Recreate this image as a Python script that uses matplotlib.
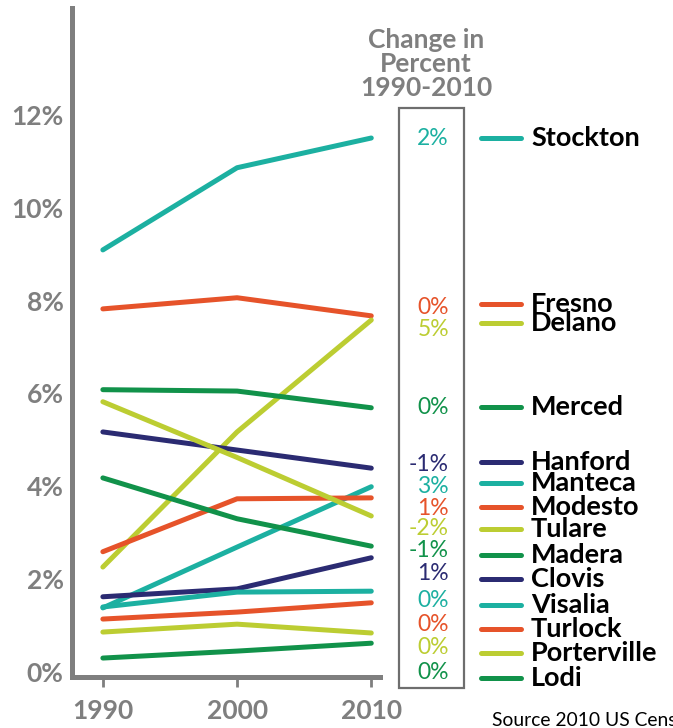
import matplotlib
matplotlib.use("Agg")
import matplotlib.pyplot as plt
from matplotlib.patches import Rectangle

# ---- data (share of population, %) ----
years = [1990, 2000, 2010]
cities = ["Stockton", "Fresno", "Delano", "Merced", "Hanford", "Manteca", "Modesto",
          "Tulare", "Madera", "Clovis", "Visalia", "Turlock", "Porterville", "Lodi"]
stockton = [9.09, 10.86, 11.50]
fresno = [7.82, 8.06, 7.67]
delano = [2.26, 5.17, 7.58]
merced = [6.08, 6.05, 5.69]
hanford = [5.17, 4.78, 4.39]
manteca = [1.38, 2.69, 3.99]
modesto = [2.59, 3.73, 3.75]
tulare = [5.82, 4.62, 3.36]
madera = [4.18, 3.30, 2.71]
clovis = [1.62, 1.79, 2.46]
visalia = [1.40, 1.72, 1.74]
turlock = [1.14, 1.29, 1.49]
porterville = [0.86, 1.03, 0.84]
lodi = [0.30, 0.45, 0.62]
series = [stockton, fresno, delano, merced, hanford, manteca, modesto,
          tulare, madera, clovis, visalia, turlock, porterville, lodi]
change_pct = [2, 0, 5, 0, -1, 3, 1, -2, -1, 1, 0, 0, 0, 0]
yticks = [0, 2, 4, 6, 8, 10, 12]

# ---- style ----
TEAL = "#1cb0a1"
ORANGE = "#e6532a"
LIME = "#bccd32"
GREEN = "#11924a"
NAVY = "#2b2b72"
GRAY = "#7f7f7f"
colors = [TEAL, ORANGE, LIME, GREEN, NAVY, TEAL, ORANGE,
          LIME, GREEN, NAVY, TEAL, ORANGE, LIME, GREEN]

# label slots on the right (in % units, hand-spaced to avoid overlaps)
legend_slot = [11.50, 7.93, 7.52, 5.71, 4.52, 4.07, 3.55, 3.08, 2.52, 2.00, 1.44, 0.93, 0.41, -0.13]
pct_slot = [11.48, 7.84, 7.37, 5.69, 4.46, 3.99, 3.53, 3.08, 2.61, 2.13, 1.55, 1.03, 0.52, -0.02]

W, H = 673, 728
fig = plt.figure(figsize=(W / 100, H / 100), dpi=100)
ax = fig.add_axes([72 / W, (H - 677) / H, 308 / W, (677 - 8) / H])

for vals, col in zip(series, colors):
    ax.plot(years, vals, color=col, lw=3.6, solid_capstyle="round", solid_joinstyle="round")

ax.set_xlim(1987.7, 2010.65)
ax.set_ylim(-0.108, 14.3)

for side in ["top", "right"]:
    ax.spines[side].set_visible(False)
for side in ["left", "bottom"]:
    ax.spines[side].set_color(GRAY)
    ax.spines[side].set_linewidth(3.6)

ax.set_yticks(yticks)
ax.set_yticklabels([f"{v}%" for v in yticks])
ax.set_xticks(years)
ax.set_xticklabels([str(y) for y in years])
ax.tick_params(axis="y", length=0, pad=6, labelsize=19, labelcolor=GRAY)
ax.tick_params(axis="x", length=7, width=2, color=GRAY, pad=9, labelsize=19, labelcolor=GRAY)
for lab in ax.get_xticklabels() + ax.get_yticklabels():
    lab.set_fontfamily("Lato")
    lab.set_fontweight("bold")

# right-hand labels
tr = ax.get_yaxis_transform()
x_pct = (449 - 72) / 308
x_l0, x_l1 = (481 - 72) / 308, (521 - 72) / 308
x_name = (531 - 72) / 308
for name, col, ch, ys, yp in zip(cities, colors, change_pct, legend_slot, pct_slot):
    ax.text(x_pct, yp, f"{ch}%", transform=tr, ha="right", va="center",
            color=col, fontsize=16.5, family="Lato", clip_on=False)
    ax.plot([x_l0, x_l1], [ys, ys], transform=tr, color=col, lw=3.6,
            solid_capstyle="round", clip_on=False)
    ax.text(x_name, ys, name, transform=tr, ha="left", va="center",
            color="black", fontsize=19.5, family="Lato", fontweight="bold", clip_on=False)

# box around change column
fig.patches.append(Rectangle((399 / W, (H - 688) / H), 65 / W, 580 / H,
                             transform=fig.transFigure, fill=False,
                             edgecolor="#6e6e6e", lw=1.6))

fig.text(426 / W, 1 - 64 / H, "Change in\nPercent\n1990-2010", ha="center", va="center",
         color=GRAY, fontsize=19, family="Lato", fontweight="bold", linespacing=0.98)

fig.text(492 / W, 1 - 720 / H, "Source 2010 US Census", ha="left", va="center",
         color="black", fontsize=13.9, family="Lato")

fig.savefig("out.png", dpi=100, facecolor="white")
